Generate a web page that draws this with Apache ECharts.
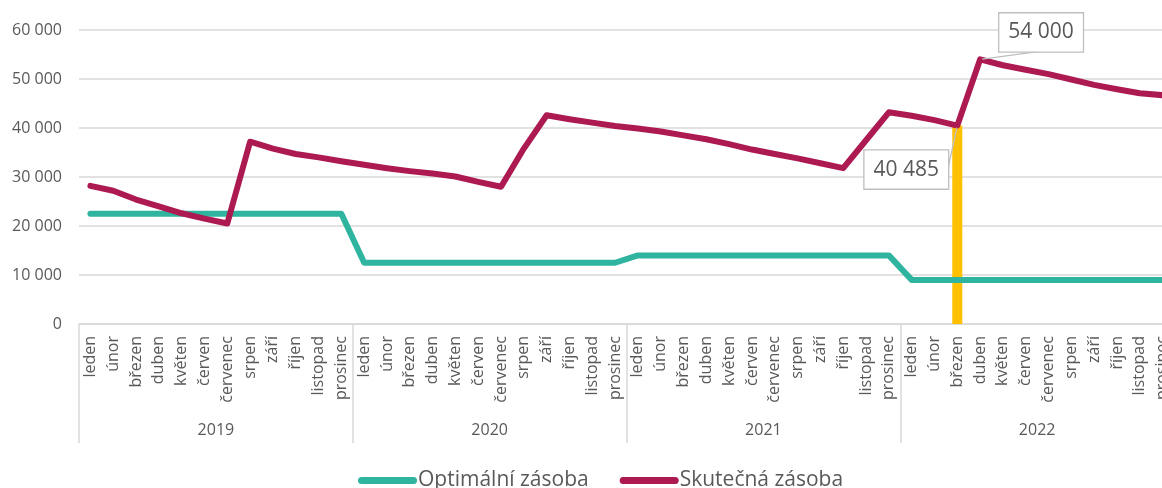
<!DOCTYPE html>
<html>
<head>
<meta charset="utf-8">
<script src="https://cdn.jsdelivr.net/npm/echarts@6.0.0/dist/echarts.min.js"></script>
<style>
  html, body { margin: 0; padding: 0; background: #fff; }
  #zasoby { width: 1162px; height: 488px; }
</style>
</head>
<body>
<div id="zasoby"></div>
<script>
// roky a měsíce na ose x
const years = ['2019', '2020', '2021', '2022'];
const months = ['leden', 'únor', 'březen', 'duben', 'květen', 'červen', 'červenec', 'srpen', 'září', 'říjen', 'listopad', 'prosinec'];
const yTicks = [0, 10000, 20000, 30000, 40000, 50000, 60000];

// optimální zásoba
const optimal = [
  22500, 22500, 22500, 22500, 22500, 22500, 22500, 22500, 22500, 22500, 22500, 22500,
  12500, 12500, 12500, 12500, 12500, 12500, 12500, 12500, 12500, 12500, 12500, 12500,
  14000, 14000, 14000, 14000, 14000, 14000, 14000, 14000, 14000, 14000, 14000, 14000,
  9000, 9000, 9000, 9000, 9000, 9000, 9000, 9000, 9000, 9000, 9000, 9000
];
// skutečná zásoba
const actual = [
  28200, 27200, 25400, 24000, 22600, 21500, 20500, 37200, 35800, 34700, 34000, 33200,
  32500, 31800, 31200, 30700, 30100, 29000, 28000, 35800, 42600, 41800, 41100, 40400,
  39900, 39300, 38500, 37700, 36700, 35600, 34700, 33800, 32800, 31800, 37500, 43200,
  42500, 41600, 40485, 54000, 52800, 51900, 51000, 49900, 48800, 47900, 47100, 46700
];
// popisky a svislá čára
const labelled = ['březen 2022', 'duben 2022'];
const dropCategory = 'březen 2022';
const dropValue = 40485;

const categories = [];
years.forEach(y => months.forEach(m => categories.push(m + ' ' + y)));

const fmt = v => String(v).replace(/\B(?=(\d{3})+(?!\d))/g, ' ');
const gray = '#595959';
const font = "'Open Sans', 'Noto Sans', sans-serif";

// pozice popisků vůči bodu
const labelOffsets = {
  'březen 2022': [-51, 44],
  'duben 2022': [61, -27]
};

const actualData = actual.map((v, i) => {
  const name = categories[i];
  if (labelled.indexOf(name) < 0) return v;
  return {
    value: v,
    symbol: 'circle',
    symbolSize: 4,
    label: {
      show: true,
      position: 'inside',
      offset: labelOffsets[name],
      formatter: p => fmt(p.value),
      fontSize: 21,
      lineHeight: 26,
      color: gray,
      fontFamily: font,
      backgroundColor: '#fff',
      borderColor: '#bfbfbf',
      borderWidth: 1.3,
      padding: [6, 9]
    },
    labelLine: {
      show: true,
      lineStyle: { color: '#bfbfbf', width: 1.3 }
    }
  };
});

// ikona legendy - zaoblená čára
const pill = 'path://M3.5,0H55.5A3.5,3.5,0,0,1,55.5,7H3.5A3.5,3.5,0,0,1,3.5,0Z';

let myChart = echarts.init(document.getElementById('zasoby'));
let option = {
  animation: false,
  textStyle: { fontFamily: font },
  grid: {
    left: 79,
    right: -12,
    top: 30,
    bottom: 164,
    containLabel: false,
    outerBoundsMode: 'none'
  },
  legend: {
    data: [
      { name: 'Optimální zásoba', icon: pill },
      { name: 'Skutečná zásoba', icon: pill }
    ],
    left: 358,
    top: 470,
    padding: 0,
    itemWidth: 59,
    itemHeight: 7,
    itemGap: 31,
    textStyle: { fontSize: 21, color: gray, fontFamily: font, padding: [0, 0, 0, -4] }
  },
  xAxis: [
    {
      type: 'category',
      data: categories,
      position: 'bottom',
      boundaryGap: true,
      axisLine: { lineStyle: { color: '#d9d9d9', width: 1.5 } },
      axisTick: { show: false },
      axisLabel: {
        interval: 0,
        rotate: 90,
        margin: 12,
        fontSize: 16,
        color: gray,
        fontFamily: font,
        formatter: v => v.split(' ')[0]
      }
    },
    {
      type: 'category',
      data: years,
      position: 'bottom',
      boundaryGap: true,
      axisLine: { show: false },
      axisTick: {
        show: true,
        interval: 0,
        length: 119,
        lineStyle: { color: '#d9d9d9', width: 1.5 }
      },
      axisLabel: {
        interval: 0,
        margin: 98,
        fontSize: 16,
        color: gray,
        fontFamily: font
      },
      splitLine: { show: false }
    }
  ],
  yAxis: {
    type: 'value',
    min: yTicks[0],
    max: yTicks[yTicks.length - 1],
    interval: yTicks[1] - yTicks[0],
    axisLine: { show: false },
    axisTick: { show: false },
    splitLine: { lineStyle: { color: '#d9d9d9', width: 1.5 } },
    axisLabel: {
      margin: 17,
      fontSize: 16,
      color: gray,
      fontFamily: font,
      formatter: v => fmt(v)
    }
  },
  series: [
    {
      name: 'drop',
      type: 'bar',
      xAxisIndex: 0,
      barWidth: 10,
      itemStyle: { color: '#ffc000' },
      data: [[dropCategory, dropValue]],
      z: 1
    },
    {
      name: 'Optimální zásoba',
      type: 'line',
      xAxisIndex: 0,
      data: optimal,
      symbol: 'none',
      color: '#2fb4a0',
      itemStyle: { color: '#2fb4a0' },
      lineStyle: { width: 6, color: '#2fb4a0', cap: 'round', join: 'round' },
      z: 3
    },
    {
      name: 'Skutečná zásoba',
      type: 'line',
      xAxisIndex: 0,
      data: actualData,
      symbol: 'none',
      color: '#ad1a52',
      itemStyle: { color: '#ad1a52' },
      lineStyle: { width: 6, color: '#ad1a52', cap: 'round', join: 'round' },
      z: 4
    }
  ]
};
option && myChart.setOption(option);
</script>
</body>
</html>
